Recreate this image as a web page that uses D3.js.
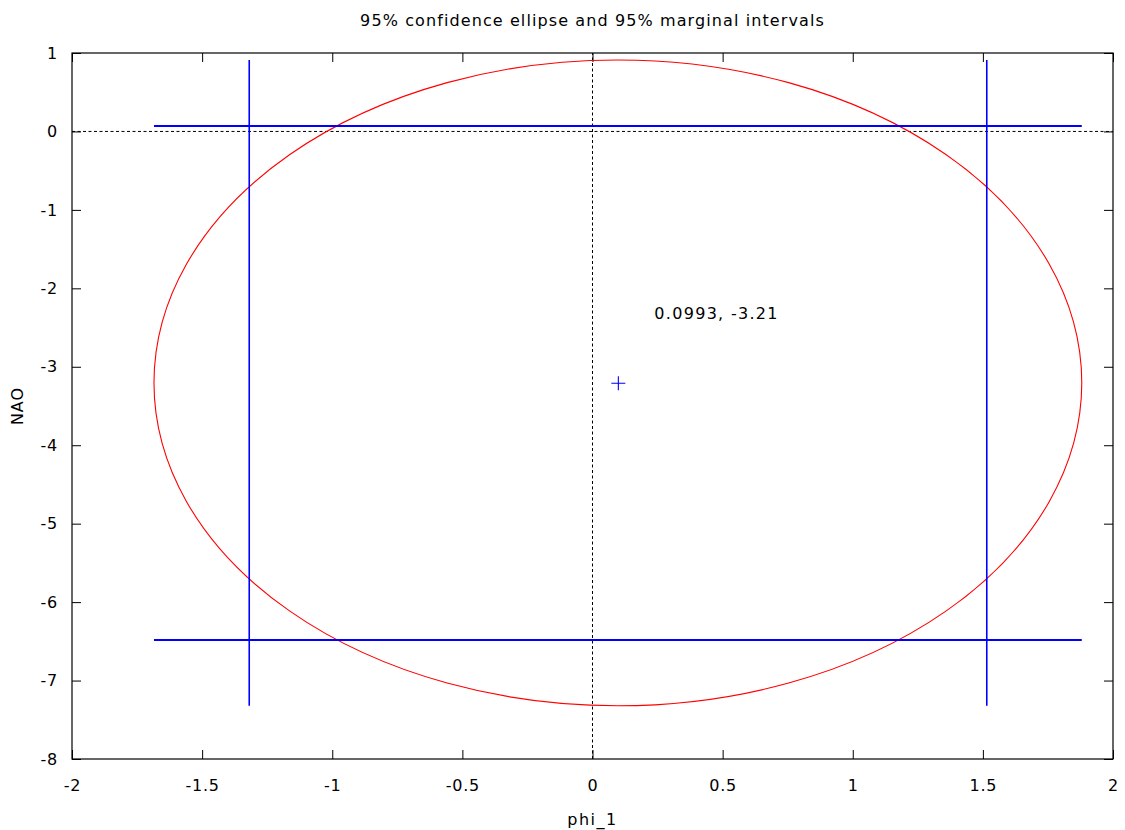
<!DOCTYPE html>
<html><head><meta charset="utf-8">
<script src="https://cdn.jsdelivr.net/npm/d3@7"></script>
<style>body{margin:0;background:#fff}svg{display:block}text{font-family:"DejaVu Sans",Verdana,sans-serif;fill:#000}</style>
</head><body><svg id="c" width="1125" height="830"></svg>
<script>
// Data
const center = [0.0993, -3.21];
const centerLabel = "0.0993, -3.21";
const ellipseX = [-1.685, 1.880];     // horizontal extent of 95% ellipse
const ellipseY = [-7.321, 0.911];     // vertical extent of 95% ellipse
const marginalX = [-1.319, 1.515];    // 95% interval for phi_1
const marginalY = [-6.483, 0.073];    // 95% interval for NAO
const xTicks = [-2, -1.5, -1, -0.5, 0, 0.5, 1, 1.5, 2];
const yTicks = [1, 0, -1, -2, -3, -4, -5, -6, -7, -8];
const title = "95% confidence ellipse and 95% marginal intervals";

const svg = d3.select("#c");
const L = 72, R = 1113, T = 53, B = 759;
const x = d3.scaleLinear().domain([-2, 2]).range([L, R]);
const y = d3.scaleLinear().domain([-8, 1]).range([B, T]);
const g = svg.append("g");

// zero axes (dotted)
g.append("line").attr("x1", x(-2)).attr("x2", x(2)).attr("y1", y(0)).attr("y2", y(0))
  .attr("stroke", "#000").attr("stroke-width", 1).attr("stroke-dasharray", "3,2.5");
g.append("line").attr("x1", x(0)).attr("x2", x(0)).attr("y1", y(-8)).attr("y2", y(1))
  .attr("stroke", "#000").attr("stroke-width", 1).attr("stroke-dasharray", "3,2.5");

// axes with inward ticks, mirrored
const tl = 9;
const fmt = d => String(d);
const ax = g.append("g").attr("transform", `translate(0,${B})`)
  .call(d3.axisBottom(x).tickValues(xTicks).tickSize(-tl).tickPadding(tl + 12).tickFormat(fmt));
const axt = g.append("g").attr("transform", `translate(0,${T})`)
  .call(d3.axisTop(x).tickValues(xTicks).tickSize(-tl).tickFormat(""));
const ay = g.append("g").attr("transform", `translate(${L},0)`)
  .call(d3.axisLeft(y).tickValues(yTicks).tickSize(-tl).tickPadding(tl + 5).tickFormat(fmt));
const ayr = g.append("g").attr("transform", `translate(${R},0)`)
  .call(d3.axisRight(y).tickValues(yTicks).tickSize(-tl).tickFormat(""));
[ax, axt, ay, ayr].forEach(a => {
  a.select(".domain").remove();
  a.selectAll("line").attr("stroke", "#000").attr("stroke-width", 1);
  a.selectAll("text").style("font-family", '"DejaVu Sans",Verdana,sans-serif').style("font-size", "16px")
    .style("letter-spacing", "0.8px").attr("fill", "#000");
});
g.append("rect").attr("x", L).attr("y", T).attr("width", R - L).attr("height", B - T)
  .attr("fill", "none").attr("stroke", "#000").attr("stroke-width", 1.2);

// ellipse
g.append("ellipse")
  .attr("cx", x((ellipseX[0] + ellipseX[1]) / 2)).attr("cy", y((ellipseY[0] + ellipseY[1]) / 2))
  .attr("rx", (x(ellipseX[1]) - x(ellipseX[0])) / 2).attr("ry", (y(ellipseY[0]) - y(ellipseY[1])) / 2)
  .attr("fill", "none").attr("stroke", "#ff0000").attr("stroke-width", 1.1);

// marginal intervals
const blue = "#0000ff";
marginalX.forEach(v => g.append("line").attr("x1", x(v)).attr("x2", x(v))
  .attr("y1", y(ellipseY[0])).attr("y2", y(ellipseY[1])).attr("stroke", blue).attr("stroke-width", 1.6));
marginalY.forEach(v => g.append("line").attr("y1", Math.round(y(v))).attr("y2", Math.round(y(v)))
  .attr("x1", x(ellipseX[0])).attr("x2", x(ellipseX[1])).attr("stroke", blue).attr("stroke-width", 2));

// center point
const cx = x(center[0]), cy = y(center[1]), s = 7;
g.append("path").attr("d", `M${cx - s},${cy}H${cx + s}M${cx},${cy - s}V${cy + s}`)
  .attr("stroke", blue).attr("stroke-width", 1.1).attr("fill", "none");
g.append("text").attr("x", cx + 36).attr("y", cy - 64).style("font-size", "16px").style("letter-spacing", "1.3px").text(centerLabel);

// titles
svg.append("text").attr("x", (L + R) / 2).attr("y", 26).attr("text-anchor", "middle").style("font-size", "16px").style("letter-spacing", "1.1px").text(title);
svg.append("text").attr("x", x(0)).attr("y", 825).attr("text-anchor", "middle").style("font-size", "16px").style("letter-spacing", "1.5px").text("phi_1");
svg.append("text").attr("transform", `translate(23,${(T + B) / 2}) rotate(-90)`).attr("text-anchor", "middle").style("font-size", "16px").style("letter-spacing", "1px").text("NAO");
</script></body></html>
